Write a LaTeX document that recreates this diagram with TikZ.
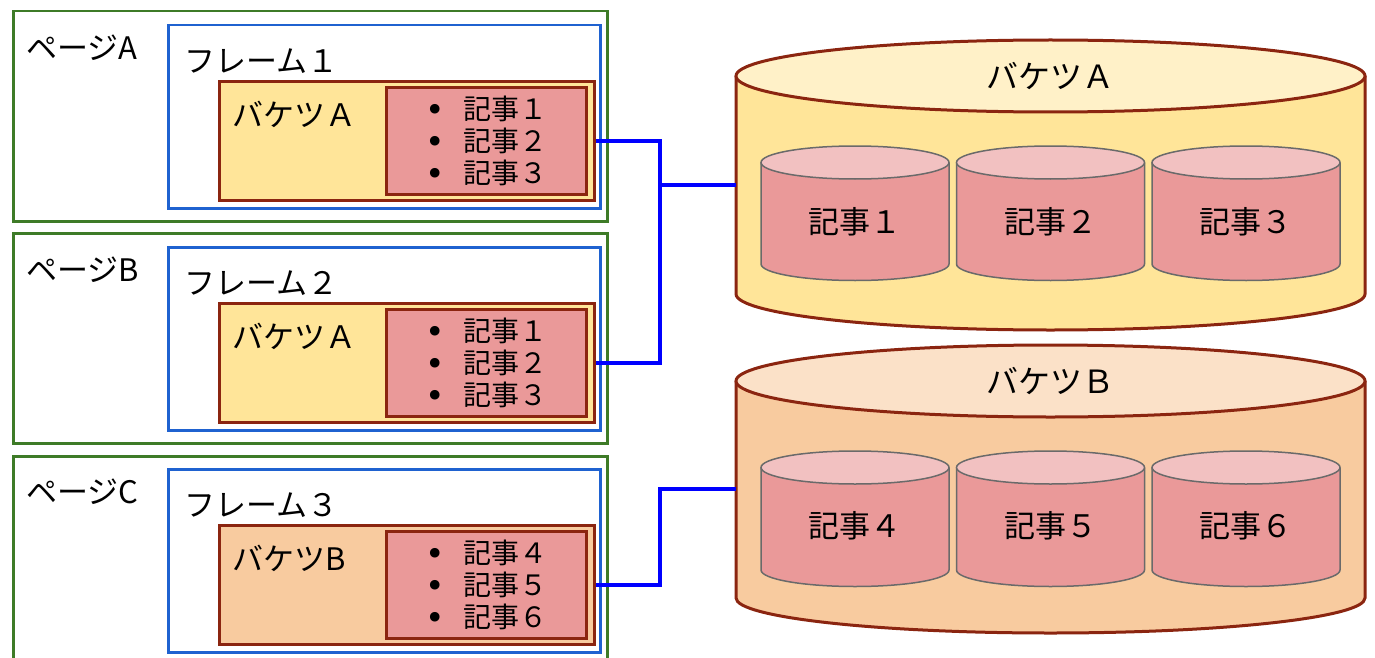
\documentclass[tikz,border=0pt]{standalone}
\usepackage{fontspec}
\setmainfont{Noto Sans CJK JP}
\newfontfamily\dotfont{DejaVu Sans}
\usepackage{tikz}
\usetikzlibrary{positioning, calc}

\definecolor{pagegreen}{HTML}{3E7B27}
\definecolor{frameblue}{HTML}{1F62D0}
\definecolor{linkblue}{HTML}{0000FF}
\definecolor{bktborder}{HTML}{8B2510}
\definecolor{bktyellow}{HTML}{FFE599}
\definecolor{bktyellowtop}{HTML}{FFF1C8}
\definecolor{bktorange}{HTML}{F8CB9F}
\definecolor{bktorangetop}{HTML}{FBE1C8}
\definecolor{artred}{HTML}{EA9999}
\definecolor{artredtop}{HTML}{F2C1C1}
\definecolor{artgray}{HTML}{6A6A6A}

\newcommand{\artdot}{\raisebox{-1.5pt}{\dotfont\fontsize{33}{32}\selectfont •}\hspace{18pt}}
\newcommand{\artlistfont}{\fontsize{28}{32}\selectfont\lineskiplimit=-100pt\relax}

\begin{document}
\begin{tikzpicture}[x=1pt, y=-1pt,
    pagebox/.style={draw=pagegreen, line width=2.5pt, anchor=north west, minimum width=594pt, minimum height=210pt, inner sep=0pt},
    framebox/.style={draw=frameblue, line width=2.5pt, anchor=north west, minimum width=432pt, minimum height=183pt, inner sep=0pt},
    bktbox/.style={draw=bktborder, line width=3pt, anchor=north west, minimum width=375pt, minimum height=119pt, inner sep=0pt},
    artbox/.style={draw=bktborder, fill=artred, line width=3pt, anchor=north west, minimum width=200pt, minimum height=107pt, inner sep=0pt},
    lbl/.style={anchor=west, inner sep=0pt, font=\fontsize{31}{34}\selectfont},
    artlist/.style={align=left, inner sep=0pt, font=\artlistfont},
    cyltext/.style={inner sep=0pt, font=\fontsize{31}{34}\selectfont},
    cyltitle/.style={inner sep=0pt, font=\fontsize{32}{34}\selectfont},
    link/.style={draw=linkblue, line width=4pt},
    bigcyl/.style={draw=bktborder, line width=3pt},
    smallcyl/.style={draw=artgray, line width=1.5pt, fill=artred}]
  \useasboundingbox (0,0) rectangle (1375,658);

  % page A
  \node[pagebox] (pageA) at (12,10) {};
  \node[lbl] (pageA-lbl) at (26,48) {ページA};
  \node[framebox] (frame1) at (167,24) {};
  \node[lbl] (frame1-lbl) at (184,61) {フレーム１};
  \node[bktbox, fill=bktyellow] (bktA1) at (218,80) {};
  \node[lbl] (bktA1-lbl) at (232,114) {バケツＡ};
  \node[artbox] (art1) at (385,86) {};
  \node[artlist] (art1-list) at (art1.center) {\artdot 記事１\\\artdot 記事２\\\artdot 記事３};

  % page B
  \node[pagebox] (pageB) at (12,232) {};
  \node[lbl] (pageB-lbl) at (26,270) {ページB};
  \node[framebox] (frame2) at (167,246) {};
  \node[lbl] (frame2-lbl) at (184,283) {フレーム２};
  \node[bktbox, fill=bktyellow] (bktA2) at (218,302) {};
  \node[lbl] (bktA2-lbl) at (232,336) {バケツＡ};
  \node[artbox] (art2) at (385,308) {};
  \node[artlist] (art2-list) at (art2.center) {\artdot 記事１\\\artdot 記事２\\\artdot 記事３};

  % page C
  \node[pagebox] (pageC) at (12,455) {};
  \node[lbl] (pageC-lbl) at (26,492) {ページC};
  \node[framebox] (frame3) at (167,468) {};
  \node[lbl] (frame3-lbl) at (184,505) {フレーム３};
  \node[bktbox, fill=bktorange] (bktB3) at (218,524) {};
  \node[lbl] (bktB3-lbl) at (232,558) {バケツB};
  \node[artbox] (art3) at (385,530) {};
  \node[artlist] (art3-list) at (art3.center) {\artdot 記事４\\\artdot 記事５\\\artdot 記事６};

  % bucket A cylinder
  \draw[bigcyl, fill=bktyellow] (736,76) -- (736,294) arc[start angle=180, end angle=360, x radius=314.5pt, y radius=36pt] -- (1365,76);
  \draw[bigcyl, fill=bktyellowtop] (1050.5,76) ellipse[x radius=314.5pt, y radius=36pt];
  \node[cyltitle] (cylA-lbl) at (1050.5,76) {バケツＡ};
  \foreach \cx/\txt/\n in {855/記事１/1, 1050.5/記事２/2, 1246/記事３/3}{
    \draw[smallcyl] (\cx-94,162.5) -- (\cx-94,264) arc[start angle=180, end angle=360, x radius=94pt, y radius=16.5pt] -- (\cx+94,162.5);
    \draw[smallcyl, fill=artredtop] (\cx,162.5) ellipse[x radius=94pt, y radius=16.5pt];
    \node[cyltext] (cylart\n) at (\cx,222) {\txt};
  }

  % bucket B cylinder
  \draw[bigcyl, fill=bktorange] (736,381) -- (736,598) arc[start angle=180, end angle=360, x radius=314.5pt, y radius=35pt] -- (1365,381);
  \draw[bigcyl, fill=bktorangetop] (1050.5,381) ellipse[x radius=314.5pt, y radius=36pt];
  \node[cyltitle] (cylB-lbl) at (1050.5,381) {バケツＢ};
  \foreach \cx/\txt/\n in {855/記事４/4, 1050.5/記事５/5, 1246/記事６/6}{
    \draw[smallcyl] (\cx-94,467.5) -- (\cx-94,570) arc[start angle=180, end angle=360, x radius=94pt, y radius=16.5pt] -- (\cx+94,467.5);
    \draw[smallcyl, fill=artredtop] (\cx,467.5) ellipse[x radius=94pt, y radius=16.5pt];
    \node[cyltext] (cylart\n) at (\cx,526) {\txt};
  }

  % connectors
  \coordinate (hubA) at (660,185);
  \coordinate (cylA) at (736,185);
  \coordinate (hubB) at (660,489);
  \coordinate (cylB) at (736,489);
  \draw[link] (bktA1.east) -| (hubA) |- (bktA2.east);
  \draw[link] (hubA) -- (cylA);
  \draw[link] (bktB3.east) -| (hubB) -- (cylB);
\end{tikzpicture}
\end{document}
